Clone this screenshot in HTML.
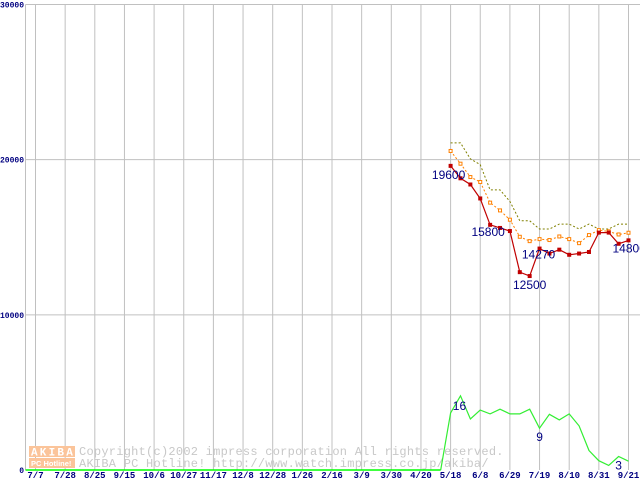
<!DOCTYPE html>
<html><head><meta charset="utf-8"><style>
html,body{margin:0;padding:0;background:#fff;width:640px;height:480px;overflow:hidden}
svg{display:block}
</style></head><body>
<svg id="chart" width="640" height="480" xmlns="http://www.w3.org/2000/svg">
<g id="grid"></g>
<g id="wm">
  <rect x="29" y="446" width="46" height="11" fill="#fbc49a"/>
  <rect x="29" y="458" width="46" height="10" fill="#fbc49a"/>
  <text x="31" y="455.5" font-family="Liberation Mono, monospace" font-size="11" font-weight="bold" fill="#fff" letter-spacing="2.2">AKIBA</text>
  <text x="31" y="466" font-family="Liberation Sans, sans-serif" font-size="7.5" font-weight="bold" fill="#fff">PC Hotline!</text>
  <text x="79" y="455" font-family="Liberation Mono, monospace" font-size="12" fill="#c8c8c8" letter-spacing="0.25">Copyright(c)2002 impress corporation All rights reserved.</text>
  <text x="79" y="467" font-family="Liberation Mono, monospace" font-size="12" fill="#c8c8c8" letter-spacing="0.25">AKIBA PC Hotline! http://www.watch.impress.co.jp/akiba/</text>
</g>
<g id="series"></g>
<g id="labels"></g>
</svg>
<script>
const xLabels=["7/7","7/28","8/25","9/15","10/6","10/27","11/17","12/8","12/28","1/26","2/16","3/9","3/30","4/20","5/18","6/8","6/29","7/19","8/10","8/31","9/21"];
const yTicks=[0,10000,20000,30000];
const redVals=[19600,18800,18400,17500,15800,15600,15400,12750,12500,14270,13950,14200,13870,13950,14050,15300,15300,14580,14800];
const orangeVals=[20560,19740,18880,18560,17230,16730,16130,15030,14750,14880,14820,15050,14880,14620,15140,15460,15380,15180,15290];
const oliveVals=[21080,21080,20050,19680,18050,18050,17310,16060,16060,15530,15530,15850,15850,15530,15850,15530,15530,15850,15850];
const greenVals=[0,12.3,16,11,12.9,12.1,13.1,12.1,12.1,13.1,9,12,10.8,12.1,9.5,4.2,2,1,2.9,1.9];
const redNotes=[[0,"19600"],[4,"15800"],[8,"12500"],[9,"14270"],[18,"14800"]];
const greenNotes=[[2,"16"],[10,"9"],[18,"3"]];

const NS="http://www.w3.org/2000/svg";
const L=25.5,T=4.5,B=470,G0=35.5,GS=29.65;
const yMax=30000;
const yS=v=>B-(B-T)*v/yMax;
const xI=i=>G0+GS*14+i*GS/3;
const yG=v=>B-v*4.64;
function mk(tag,attrs,parent){const e=document.createElementNS(NS,tag);for(const k in attrs)e.setAttribute(k,attrs[k]);parent.appendChild(e);return e;}
const grid=document.getElementById('grid'),ser=document.getElementById('series'),lab=document.getElementById('labels');

xLabels.forEach((t,i)=>{
  const x=G0+i*GS;
  const ln=mk('line',{x1:x,y1:T,x2:x,y2:B,stroke:'#c0c0c0','stroke-width':1},grid);
  
  
  const tx=mk('text',{x:x,y:478,'text-anchor':'middle','font-family':'Liberation Mono, monospace','font-size':9,'font-weight':'bold',fill:'#000080'},grid);
  tx.textContent=t;
  
  
});
yTicks.forEach(v=>{
  const y=yS(v);
  if(v>0){const ln=mk('line',{x1:L,y1:y,x2:640,y2:y,stroke:'#c0c0c0','stroke-width':1},grid);
  
  }
  const tx=mk('text',{x:24,y:y+3,'text-anchor':'end','font-family':'Liberation Mono, monospace','font-size':8,'font-weight':'bold',fill:'#000080'},grid);
  tx.textContent=String(v);
  
  
});
const ax=mk('line',{x1:L,y1:T,x2:L,y2:B,stroke:'#c0c0c0','stroke-width':1},grid);



function poly(vals,fn,off,attrs,name){
  const pts=vals.map((v,i)=>xI(i+off).toFixed(1)+','+fn(v).toFixed(1)).join(' ');
  const p=mk('polyline',Object.assign({points:pts,fill:'none'},attrs),ser);
  
  
}
const gb=mk('line',{x1:L,y1:B,x2:xI(-1),y2:B,stroke:'#00ff00','stroke-width':1.5},ser);


poly(greenVals,yG,-1,{stroke:'#33ee33','stroke-width':1.2},'green-series-line');
poly(oliveVals,yS,0,{stroke:'#808000','stroke-width':1,'stroke-dasharray':'2,2'},'olive-series-line');
poly(orangeVals,yS,0,{stroke:'#ff8000','stroke-width':1,'stroke-dasharray':'2,2'},'orange-series-line');
orangeVals.forEach((v,i)=>{
  const r=mk('rect',{x:xI(i)-1.5,y:yS(v)-1.5,width:3,height:3,fill:'#fff',stroke:'#ff8000','stroke-width':1},ser);
  
  
});
poly(redVals,yS,0,{stroke:'#c00000','stroke-width':1.2},'red-series-line');
redVals.forEach((v,i)=>{
  const r=mk('rect',{x:xI(i)-2,y:yS(v)-2,width:4,height:4,fill:'#c00000'},ser);
  
  
});
const redDx={0:-2,4:-2,8:0,9:-1};
const redDy={0:13,4:11,8:13,9:10,18:12};
redNotes.forEach(([i,t])=>{
  const last=i===18;
  const tx=mk('text',{x:last?xI(i)-16:xI(i)+redDx[i],y:yS(redVals[i])+redDy[i],'text-anchor':last?'start':'middle','font-family':'Liberation Sans, sans-serif','font-size':12,fill:'#000080'},lab);
  tx.textContent=t;
  
  
});
greenNotes.forEach(([i,t])=>{
  const tx=mk('text',{x:xI(i-1)-(i===2?1:0),y:yG(greenVals[i])+(i===2?14:13),'text-anchor':'middle','font-family':'Liberation Sans, sans-serif','font-size':12,fill:'#000080'},lab);
  tx.textContent=t;
  
  
});
</script>
</body></html>
